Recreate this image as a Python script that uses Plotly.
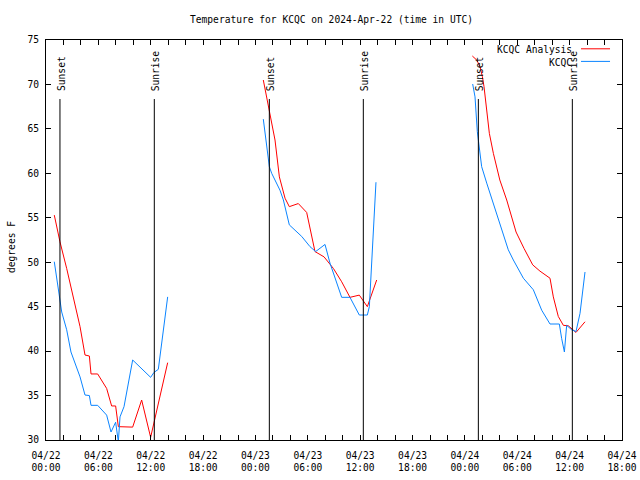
import datetime as dt
import plotly.graph_objects as go

# ---------------- data (hours after 2024-04-22 00:00 UTC, degrees F) ----------------
analysis_hours_d1 = [0.95, 1.6, 2.37, 3.32, 3.9, 4.47, 4.97, 5.16, 5.92, 6.95, 7.52, 7.98, 8.29, 9.93, 10.96, 11.99, 13.94]
analysis_temps_d1 = [55.3, 52.3, 49.3, 45.4, 42.75, 39.56, 39.45, 37.43, 37.43, 35.8, 33.83, 33.83, 31.5, 31.45, 34.5, 30.3, 38.7]
analysis_hours_d2 = [24.9, 25.59, 26.24, 26.74, 27.39, 27.88, 28.91, 29.87, 30.82, 31.86, 32.93, 33.88, 34.83, 35.9, 36.82, 37.89]
analysis_temps_d2 = [70.5, 67.1, 63.75, 59.6, 57.2, 56.25, 56.6, 55.6, 51.2, 50.6, 49.3, 47.8, 46.05, 46.3, 45.0, 48.0]
analysis_hours_d3 = [48.85, 49.35, 49.73, 50.0, 50.19, 50.38, 50.57, 50.8, 51.26, 52.0, 52.79, 53.86, 54.77, 55.77, 56.6, 57.75, 58.13, 58.7, 59.28, 59.85, 60.73, 61.76]
analysis_temps_d3 = [73.2, 72.75, 72.0, 70.9, 69.75, 68.25, 66.2, 64.5, 62.25, 59.25, 57.0, 53.4, 51.56, 49.7, 49.0, 48.2, 46.1, 43.9, 42.9, 42.85, 42.1, 43.3]

obs_hours_d1 = [0.95, 1.6, 1.8, 2.37, 2.86, 3.9, 4.47, 4.97, 5.16, 5.92, 6.95, 7.45, 7.98, 8.29, 8.48, 8.94, 9.93, 11.99, 12.37, 12.87, 13.94]
obs_temps_d1 = [50.06, 45.9, 44.4, 42.4, 39.9, 37.1, 35.06, 35.0, 33.9, 33.9, 32.8, 30.9, 32.0, 29.8, 32.6, 33.75, 39.0, 37.05, 37.6, 37.95, 46.1]
obs_hours_d2 = [24.9, 25.29, 25.59, 25.86, 26.81, 27.2, 27.88, 29.3, 30.25, 30.9, 31.97, 32.54, 33.88, 34.83, 35.9, 36.82, 37.05, 37.81]
obs_temps_d2 = [66.1, 63.4, 60.75, 60.0, 58.1, 57.0, 54.2, 52.9, 51.75, 51.2, 52.0, 49.9, 46.05, 46.05, 44.06, 44.06, 45.0, 59.0]
obs_hours_d3 = [48.89, 49.16, 49.42, 49.55, 49.92, 50.5, 51.26, 52.2, 52.97, 53.55, 54.7, 55.84, 56.8, 57.75, 58.82, 59.09, 59.4, 59.66, 60.23, 60.73, 61.19, 61.76]
obs_temps_d3 = [70.05, 68.6, 64.7, 63.5, 60.75, 58.9, 56.6, 54.0, 51.4, 50.25, 48.2, 46.9, 44.6, 43.05, 43.05, 41.4, 39.9, 42.9, 42.4, 42.2, 44.25, 48.9]

sunset_hours = [1.60, 25.59, 49.54]
sunrise_hours = [12.41, 36.36, 60.31]

series_names = ["KCQC Analysis", "KCQC"]
series_colors = ["#ff0000", "#0a84ff"]
title_text = "Temperature for KCQC on 2024-Apr-22 (time in UTC)"
y_label = "degrees F"

base = dt.datetime(2024, 4, 22, 0, 0)
FONT = "DejaVu Sans Mono"
FS = 9.6


def to_t(h):
    return base + dt.timedelta(hours=h)


def join(segs):
    xs, ys = [], []
    for hs, ts in segs:
        if xs:
            xs.append(None)
            ys.append(None)
        xs += [to_t(h) for h in hs]
        ys += ts
    return xs, ys


fig = go.Figure()
ax, ay = join([(analysis_hours_d1, analysis_temps_d1), (analysis_hours_d2, analysis_temps_d2),
               (analysis_hours_d3, analysis_temps_d3)])
ox, oy = join([(obs_hours_d1, obs_temps_d1), (obs_hours_d2, obs_temps_d2), (obs_hours_d3, obs_temps_d3)])
fig.add_trace(go.Scatter(x=ax, y=ay, mode="lines", name=series_names[0],
                         line=dict(color=series_colors[0], width=1), connectgaps=False))
fig.add_trace(go.Scatter(x=ox, y=oy, mode="lines", name=series_names[1],
                         line=dict(color=series_colors[1], width=1), connectgaps=False))

line_top = 68.36
label_bottom = 69.15
for hrs, lab in [(sunset_hours, "Sunset"), (sunrise_hours, "Sunrise")]:
    for h in hrs:
        t = to_t(h)
        fig.add_shape(type="line", xref="x", yref="y", x0=t, x1=t, y0=30, y1=line_top,
                      line=dict(color="black", width=1))
        fig.add_annotation(x=t, y=label_bottom, xref="x", yref="y", text=lab, textangle=-90,
                           showarrow=False, xanchor="center", yanchor="bottom", xshift=1.5,
                           font=dict(family=FONT, size=FS, color="black"), borderpad=0)

# title and axis label
fig.add_annotation(x=0.496, y=1.05, xref="paper", yref="paper", text=title_text, showarrow=False,
                   xanchor="center", yanchor="middle", font=dict(family=FONT, size=FS, color="black"))
fig.add_annotation(x=-0.0608, y=0.4825, xref="paper", yref="paper", text=y_label, showarrow=False,
                   textangle=-90, xanchor="center", yanchor="middle",
                   font=dict(family=FONT, size=FS, color="black"))

# gnuplot-style key: text then sample line
key_y = [0.9755, 0.944]
for name, col, ky in zip(series_names, series_colors, key_y):
    fig.add_annotation(x=0.9155, y=ky, xref="paper", yref="paper", text=name, showarrow=False,
                       xanchor="right", yanchor="middle", font=dict(family=FONT, size=FS, color="black"),
                       borderpad=0)
    fig.add_shape(type="line", xref="paper", yref="paper", x0=0.9288, x1=0.9792, y0=ky + 0.0025, y1=ky + 0.0025,
                  line=dict(color=col, width=1))

fig.update_layout(
    width=640, height=480,
    margin=dict(l=46, r=18, t=40, b=40, pad=0, autoexpand=False),
    plot_bgcolor="white", paper_bgcolor="white",
    showlegend=False,
    font=dict(family=FONT, size=FS, color="black"),
)
fig.update_xaxes(
    type="date", automargin=False,
    range=[base, to_t(66)],
    tick0=base, dtick=6 * 3600 * 1000,
    tickformat="%m/%d<br>%H:%M",
    ticks="inside", ticklen=5, tickcolor="black", tickwidth=1,
    minor=dict(dtick=2 * 3600 * 1000, ticks="inside", ticklen=5, tickcolor="black", showgrid=False),
    showline=True, linecolor="black", linewidth=1, mirror="allticks",
    showgrid=False, zeroline=False,
    tickfont=dict(family=FONT, size=FS, color="black"),
    ticklabelstandoff=6,
)
fig.update_yaxes(
    automargin=False,
    range=[30, 75], tick0=30, dtick=5,
    ticks="inside", ticklen=5, tickcolor="black", tickwidth=1,
    showline=True, linecolor="black", linewidth=1, mirror="allticks",
    showgrid=False, zeroline=False,
    tickfont=dict(family=FONT, size=FS, color="black"),
    ticklabelstandoff=4,
)

fig.write_html("out.html")
